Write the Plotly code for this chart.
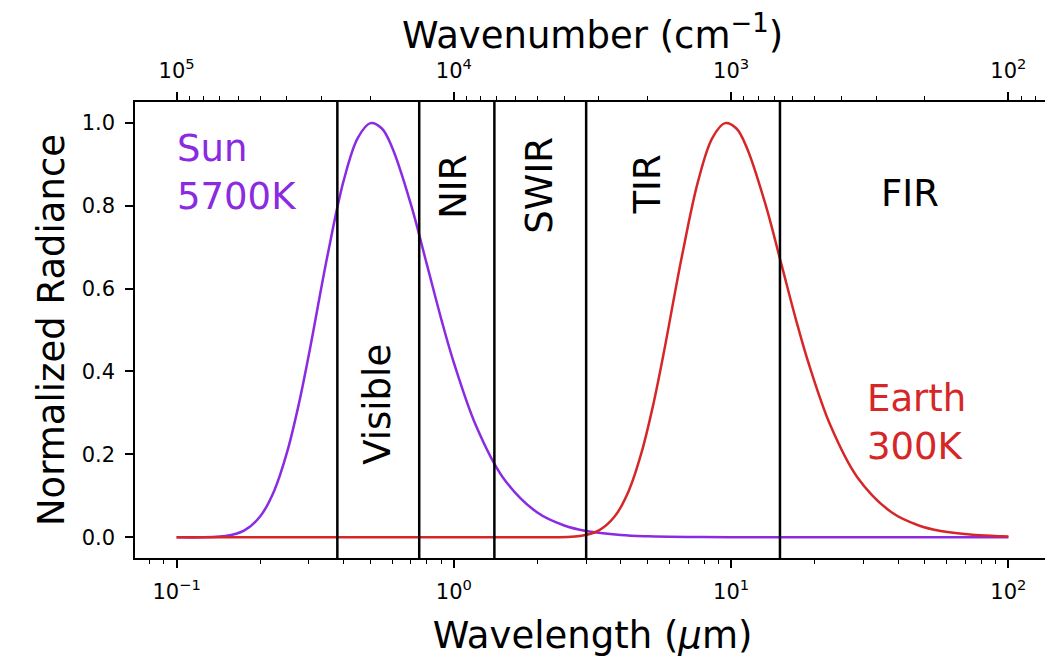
import math
import plotly.graph_objects as go

# Sun (5700K) normalized radiance
sun_wl = [0.1, 0.15, 0.175, 0.2, 0.225, 0.25, 0.275, 0.3, 0.35, 0.4, 0.45, 0.5, 0.55, 0.6,
          0.7, 0.8, 0.9, 1.0, 1.2, 1.5, 2.0, 2.5, 3.0, 4.0, 5.0, 7.0, 10.0, 20.0, 50.0, 100.0]
sun_val = [0.0, 0.0031, 0.0161, 0.0499, 0.1125, 0.204, 0.317, 0.441, 0.679, 0.859, 0.963, 0.999, 0.986, 0.939,
           0.803, 0.657, 0.527, 0.421, 0.270, 0.145, 0.0596, 0.0284, 0.0151, 0.0054, 0.0024, 0.0007, 0.0002, 0.0, 0.0, 0.0]

# Earth (300K) normalized radiance
earth_wl = [0.1, 0.5, 1.0, 1.5, 1.9, 2.85, 3.325, 3.8, 4.275, 4.75, 5.225, 5.7, 6.65, 7.6, 8.55, 9.5, 10.45,
            11.4, 13.3, 15.2, 17.1, 19.0, 22.8, 28.5, 38.0, 47.5, 57.0, 76.0, 95.0, 100.0]
earth_val = [0.0, 0.0, 0.0, 0.0, 0.0, 0.0031, 0.0161, 0.0499, 0.1125, 0.204, 0.317, 0.441, 0.679, 0.859, 0.963, 0.999, 0.986,
             0.939, 0.803, 0.657, 0.527, 0.421, 0.270, 0.145, 0.0596, 0.0284, 0.0151, 0.0054, 0.0024, 0.0020]

# Band boundaries (µm)
boundaries = [0.38, 0.75, 1.4, 3.0, 15.0]

# Band labels: (text, wavelength, value, angle)
band_labels = [("Visible", 0.533, 0.32, -90), ("NIR", 1.0, 0.845, -90), ("SWIR", 2.04, 0.85, -90),
               ("TIR", 5.0, 0.85, -90), ("FIR", 44.0, 0.83, 0)]

# Tick values / labels
bottom_tickvals = [0.1, 1, 10, 100]
bottom_ticktext = ["10<sup>−1</sup>", "10<sup>0</sup>", "10<sup>1</sup>", "10<sup>2</sup>"]
top_tickvals = [1e5, 1e4, 1e3, 1e2]
top_ticktext = ["10<sup>5</sup>", "10<sup>4</sup>", "10<sup>3</sup>", "10<sup>2</sup>"]
y_ticks = [0.0, 0.2, 0.4, 0.6, 0.8, 1.0]

x_min, x_max = 0.1, 100.0

PURPLE = "#8A2BE2"
RED = "#D62728"
FONT = "DejaVu Sans"

pad = 0.05 * (math.log10(x_max) - math.log10(x_min))
xr = [math.log10(x_min) - pad, math.log10(x_max) + pad]
xr_top = [4 - xr[0], 4 - xr[1]]

def minors(lo, hi):
    vals = []
    for e in range(lo, hi):
        for m in range(2, 10):
            vals.append(m * 10 ** e)
    return vals

fig = go.Figure()
fig.add_trace(go.Scatter(x=sun_wl, y=sun_val, mode="lines", line=dict(color=PURPLE, width=2.5, shape="spline"),
                         showlegend=False, hoverinfo="skip"))
fig.add_trace(go.Scatter(x=earth_wl, y=earth_val, mode="lines", line=dict(color=RED, width=2.5, shape="spline"),
                         showlegend=False, hoverinfo="skip"))
# invisible trace for the top (wavenumber) axis
fig.add_trace(go.Scatter(x=[1e4 / w for w in [x_min, x_max]], y=[0, 0], xaxis="x2", mode="lines",
                         line=dict(width=0), opacity=0, showlegend=False, hoverinfo="skip"))

for b in boundaries:
    fig.add_shape(type="line", xref="x", yref="paper", x0=b, x1=b, y0=0, y1=1,
                  line=dict(color="black", width=2.5))

for txt, wl, v, ang in band_labels:
    fig.add_annotation(x=math.log10(wl), y=v, text=txt, showarrow=False, textangle=ang,
                       font=dict(family=FONT, size=37, color="black"))

fig.add_annotation(x=math.log10(0.1), y=0.88, text="Sun<br>5700K", showarrow=False, xanchor="left",
                   align="left", font=dict(family=FONT, size=37, color=PURPLE), xshift=-2)
fig.add_annotation(x=math.log10(30.4), y=0.277, text="Earth<br>300K", showarrow=False, xanchor="left",
                   align="left", font=dict(family=FONT, size=37, color=RED))

axis_common = dict(showline=True, linecolor="black", linewidth=1.5, ticks="outside", ticklen=8, tickwidth=1.5,
                   tickcolor="black", showgrid=False, zeroline=False, automargin=False, ticklabelstandoff=6,
                   tickfont=dict(family=FONT, size=21, color="black"))

fig.update_layout(
    width=1045, height=649,
    margin=dict(l=127, r=3, t=94, b=99),
    paper_bgcolor="white", plot_bgcolor="white",
    xaxis=dict(type="log", range=xr, tickmode="array", tickvals=bottom_tickvals, ticktext=bottom_ticktext, mirror=True,
               minor=dict(tickvals=minors(-2, 3), ticks="outside", ticklen=4.5, tickwidth=1.2, tickcolor="black"),
               title=dict(text="Wavelength (<i>μ</i>m)", font=dict(family=FONT, size=37, color="black"), standoff=20),
               **axis_common),
    xaxis2=dict(type="log", range=xr_top, tickmode="array", tickvals=top_tickvals, ticktext=top_ticktext,
                overlaying="x", side="top",
                minor=dict(tickvals=minors(1, 6), ticks="outside", ticklen=4.5, tickwidth=1.2, tickcolor="black"),
                title=dict(text="Wavenumber (cm<sup>−1</sup>)", font=dict(family=FONT, size=37, color="black"), standoff=2),
                **axis_common),
    yaxis=dict(range=[-0.05, 1.05], tickvals=y_ticks, tickformat=".1f", mirror=True,
               title=dict(text="Normalized Radiance", font=dict(family=FONT, size=37, color="black"), standoff=6),
               **axis_common),
)

fig.write_html("out.html")
